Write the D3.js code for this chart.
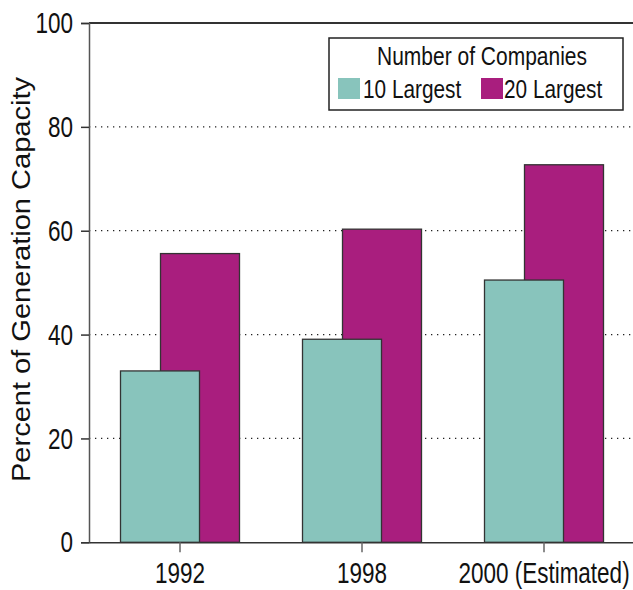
<!DOCTYPE html>
<html>
<head>
<meta charset="utf-8">
<script src="https://cdn.jsdelivr.net/npm/d3@7"></script>
<style>
  body { margin: 0; background: #fff; }
  svg { display: block; }
</style>
</head>
<body>
<svg id="chart"></svg>
<script>
const years = ["1992", "1998", "2000 (Estimated)"];
const seriesNames = ["20 Largest", "10 Largest"];
const largest10 = [33.0, 39.1, 50.5];
const largest20 = [55.6, 60.3, 72.7];
const yTicks = [0, 20, 40, 60, 80, 100];
const seriesColors = { "10 Largest": "#88c4bc", "20 Largest": "#a91e7e" };

const W = 633, H = 590;
const margin = { top: 23, right: 0, bottom: 48, left: 89 };
const font = "'Liberation Sans', Arial, sans-serif";
// the original uses a narrow face; squeeze regular Arial-metric glyphs instead
const tickSqueeze = 0.75, titleSqueeze = 0.84, itemSqueeze = 0.8;

const svg = d3.select("#chart").attr("width", W).attr("height", H);

const x = d3.scaleBand()
    .domain(years)
    .range([margin.left, margin.left + 546])
    .padding(0);

// the two bars of a year overlap, 20 Largest sits behind and to the right
const offset = d3.scalePoint()
    .domain(["10 Largest", "20 Largest"])
    .range([-20, 20]);
const barW = 79;

const y = d3.scaleLinear()
    .domain([0, 100])
    .range([H - margin.bottom + 0.3, margin.top]);

// dotted grid
svg.append("g")
    .selectAll("line")
    .data(yTicks.filter(d => d > 0 && d < 100))
    .enter().append("line")
    .attr("x1", margin.left)
    .attr("x2", W)
    .attr("y1", d => y(d))
    .attr("y2", d => y(d))
    .attr("stroke", "#222")
    .attr("stroke-width", 1.3)
    .attr("stroke-dasharray", "1.3,4.7");

// bars
const rows = years.map((yr, i) => ({ year: yr, "10 Largest": largest10[i], "20 Largest": largest20[i] }));

seriesNames.forEach(s => {
  svg.append("g")
    .selectAll("rect")
    .data(rows)
    .enter().append("rect")
    .attr("x", d => x(d.year) + x.bandwidth() / 2 + offset(s) - barW / 2)
    .attr("width", barW)
    .attr("y", d => y(d[s]))
    .attr("height", d => y(0) - y(d[s]))
    .attr("fill", seriesColors[s])
    .attr("stroke", "#333")
    .attr("stroke-width", 1.3);
});

// top frame line
svg.append("line")
    .attr("x1", margin.left).attr("x2", W)
    .attr("y1", y(100)).attr("y2", y(100))
    .attr("stroke", "#333").attr("stroke-width", 2);

// y axis
const yAxis = svg.append("g")
    .attr("transform", `translate(${margin.left},0)`)
    .call(d3.axisLeft(y).tickValues(yTicks).tickSize(8).tickPadding(8));
yAxis.select(".domain").attr("stroke", "#555").attr("stroke-width", 1.5);
yAxis.selectAll(".tick line").attr("stroke", "#333").attr("stroke-width", 1.5);
yAxis.selectAll(".tick text")
    .attr("x", 0)
    .attr("transform", `translate(-16,0) scale(${tickSqueeze},1)`)
    .style("font-family", font)
    .style("font-size", "30px")
    .attr("fill", "#111");

// x axis
const xAxis = svg.append("g")
    .attr("transform", `translate(0,${y(0)})`)
    .call(d3.axisBottom(x).tickSize(10).tickPadding(9).tickSizeOuter(0));
xAxis.select(".domain").attr("stroke", "#333").attr("stroke-width", 1.5);
xAxis.selectAll(".tick line").attr("stroke", "#666").attr("stroke-width", 1.5);
xAxis.selectAll(".tick text")
    .attr("transform", `scale(${tickSqueeze},1)`)
    .style("font-family", font)
    .style("font-size", "30px")
    .attr("fill", "#111");

// y title
svg.append("text")
    .attr("transform", `translate(30,${279.5}) rotate(-90)`)
    .attr("text-anchor", "middle")
    .style("font-family", font)
    .style("font-size", "25px")
    .attr("textLength", 405)
    .attr("lengthAdjust", "spacingAndGlyphs")
    .attr("fill", "#111")
    .text("Percent of Generation Capacity");

// legend
const lg = svg.append("g");
lg.append("rect")
    .attr("x", 329).attr("y", 38)
    .attr("width", 294).attr("height", 72)
    .attr("fill", "#fff").attr("stroke", "#222").attr("stroke-width", 1.5);
lg.append("text")
    .attr("transform", `translate(482,65) scale(${titleSqueeze},1)`)
    .attr("text-anchor", "middle")
    .style("font-family", font)
    .style("font-size", "25px")
    .attr("fill", "#111")
    .text("Number of Companies");

const legendItems = [
  { name: "10 Largest", sx: 338, tx: 363 },
  { name: "20 Largest", sx: 481, tx: 504 }
];
legendItems.forEach(it => {
  lg.append("rect")
    .attr("x", it.sx).attr("y", 78)
    .attr("width", 22).attr("height", 21)
    .attr("fill", seriesColors[it.name]);
  lg.append("text")
    .attr("transform", `translate(${it.tx},98) scale(${itemSqueeze},1)`)
    .style("font-family", font)
    .style("font-size", "26px")
    .attr("fill", "#111")
    .text(it.name);
});
</script>
</body>
</html>
